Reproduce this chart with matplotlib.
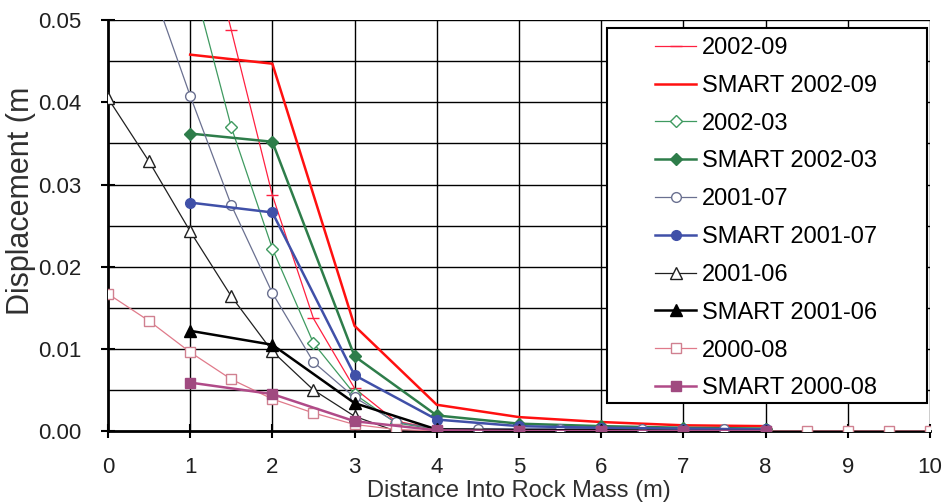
import matplotlib
matplotlib.use("Agg")
import matplotlib.pyplot as plt
from matplotlib.patches import Rectangle
import numpy as np

plt.rcParams['font.family'] = ['Liberation Sans', 'DejaVu Sans']

# ---- data ----
x_smart = [1, 2, 3, 4, 5, 6, 7, 8]

x_2002_09 = [1, 1.5, 2, 2.5, 3, 3.5, 4, 5, 6, 7, 8]
y_2002_09 = [0.0688, 0.0488, 0.0287, 0.0137, 0.0052, 0.0012, 0.0003, 0.0002, 0.0002, 0.0002, 0.0002]
y_smart_2002_09 = [0.0458, 0.0447, 0.0128, 0.0032, 0.0017, 0.0011, 0.0007, 0.0006]

x_2002_03 = [1, 1.5, 2, 2.5, 3, 3.5, 4, 5, 6, 7, 8]
y_2002_03 = [0.0560, 0.0370, 0.0222, 0.0107, 0.0045, 0.0010, 0.0002, 0.0002, 0.0002, 0.0002, 0.0002]
y_smart_2002_03 = [0.0362, 0.0352, 0.0091, 0.0019, 0.0009, 0.0006, 0.0004, 0.0003]

x_2001_07 = [0.5, 1, 1.5, 2, 2.5, 3, 3.5, 4, 4.5, 5.5, 6, 6.5, 7.5, 8]
y_2001_07 = [0.0550, 0.0408, 0.0275, 0.0168, 0.0084, 0.0041, 0.0011, 0.0003, 0.0003, 0.0003, 0.0003, 0.0003, 0.0002, 0.0002]
y_smart_2001_07 = [0.0278, 0.0266, 0.0068, 0.0014, 0.0006, 0.0004, 0.0003, 0.0002]

x_2001_06 = [0, 0.5, 1, 1.5, 2, 2.5, 3, 3.5, 4, 5, 6, 7, 8]
y_2001_06 = [0.0405, 0.0328, 0.0243, 0.0164, 0.0097, 0.0050, 0.0018, 0.0000, -0.0001, 0.0000, 0.0000, 0.0000, 0.0000]
y_smart_2001_06 = [0.0122, 0.0105, 0.0034, 0.0002, 0.0001, 0.0001, 0.0000, 0.0000]

x_2000_08 = [0, 0.5, 1, 1.5, 2, 2.5, 3, 3.5, 4, 5, 6, 7, 8, 8.5, 9, 9.5, 10]
y_2000_08 = [0.0167, 0.0134, 0.0096, 0.0063, 0.0039, 0.0022, 0.0008, 0.0002, 0.0000, 0.0000, 0.0000, 0.0000, 0.0000, 0.0000, 0.0000, 0.0000, 0.0000]
y_smart_2000_08 = [0.0059, 0.0045, 0.0012, 0.0001, 0.0000, 0.0000, 0.0000, 0.0000]

x_ticks = list(range(0, 11))
y_ticks = [0.00, 0.01, 0.02, 0.03, 0.04, 0.05]

# ---- figure ----
fig = plt.figure(figsize=(9.47, 5.03), dpi=100)
ax = fig.add_axes([0.114, 0.143, 0.868, 0.817])

ax.set_xlim(0, 10)
ax.set_ylim(0, 0.05)

for yv in np.arange(0.005, 0.0501, 0.005):
    ax.axhline(yv, color='black', lw=1.0, zorder=1)
for xv in range(1, 11):
    ax.axvline(xv, color='black', lw=1.0, zorder=1)

series = [
    (x_2002_09, y_2002_09, '2002-09', dict(color='#ff2040', lw=0.9, marker='_', ms=9, mew=1.0)),
    (x_smart, y_smart_2002_09, 'SMART 2002-09', dict(color='#ff1010', lw=1.8, marker=None)),
    (x_2002_03, y_2002_03, '2002-03', dict(color='#3f9a60', lw=0.9, marker='D', ms=6, mfc='white', mec='#3f9a60', mew=1.0)),
    (x_smart, y_smart_2002_03, 'SMART 2002-03', dict(color='#2e7d4a', lw=1.8, marker='D', ms=6, mfc='#2e7d4a', mec='#2e7d4a')),
    (x_2001_07, y_2001_07, '2001-07', dict(color='#6a7090', lw=0.9, marker='o', ms=7, mfc='white', mec='#6a7090', mew=1.0)),
    (x_smart, y_smart_2001_07, 'SMART 2001-07', dict(color='#4050a8', lw=1.8, marker='o', ms=7, mfc='#4050a8', mec='#4050a8')),
    (x_2001_06, y_2001_06, '2001-06', dict(color='#202020', lw=0.9, marker='^', ms=8, mfc='white', mec='#202020', mew=1.0)),
    (x_smart, y_smart_2001_06, 'SMART 2001-06', dict(color='black', lw=1.8, marker='^', ms=8, mfc='black', mec='black')),
    (x_2000_08, y_2000_08, '2000-08', dict(color='#e07a8a', lw=0.9, marker='s', ms=7, mfc='white', mec='#d08090', mew=1.0)),
    (x_smart, y_smart_2000_08, 'SMART 2000-08', dict(color='#b04a88', lw=1.8, marker='s', ms=7, mfc='#a04a80', mec='#a04a80')),
]

handles = []
for i, (xs, ys, lab, kw) in enumerate(series):
    h, = ax.plot(xs, ys, label=lab, zorder=3 + i * 0.01, **kw)
    handles.append(h)

# axis styling
for s in ['top', 'right']:
    ax.spines[s].set_visible(False)
ax.spines['left'].set_linewidth(2.0)
ax.spines['bottom'].set_linewidth(2.0)

ax.set_xticks(x_ticks)
ax.set_xticklabels([str(v) for v in x_ticks])
ax.set_yticks(y_ticks)
ax.set_yticklabels([f"{v:.2f}" for v in y_ticks])
ax.tick_params(axis='both', direction='inout', length=10, width=1.5, labelsize=16,
               labelcolor='#202020')
ax.tick_params(axis='x', pad=14)
ax.tick_params(axis='y', pad=14)
ax.set_xlabel('Distance Into Rock Mass (m)', fontsize=17, color='#303030')
ax.xaxis.set_label_coords(0.5, -0.118)
ax.set_ylabel('Displacement (m', fontsize=22, color='#303030')
ax.yaxis.set_label_coords(-0.088, 0.56)

# legend box
rect = Rectangle((0.607, 0.068), 0.39, 0.912, transform=ax.transAxes,
                 facecolor='white', edgecolor='black', lw=1.5, zorder=10)
ax.add_patch(rect)
leg = ax.legend(handles=handles, loc='upper left', bbox_to_anchor=(0.654, 0.982),
                frameon=False, fontsize=17, handlelength=1.75, handletextpad=0.25,
                labelspacing=0.67, borderaxespad=0)
leg.set_zorder(11)

fig.savefig('out.png', dpi=100)
